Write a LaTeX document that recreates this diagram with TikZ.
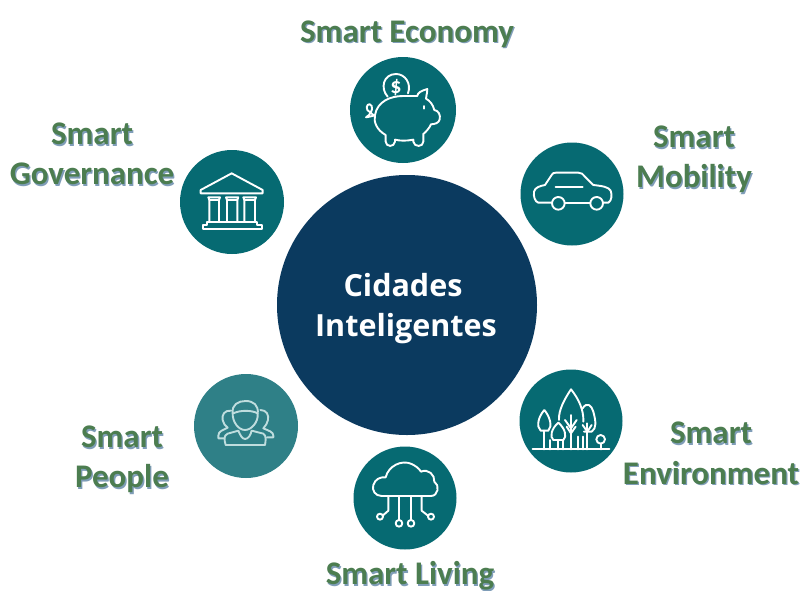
\documentclass[tikz,border=0pt]{standalone}
\usepackage{fontspec}
\setmainfont{Carlito}
\newfontfamily\hubfont{Open Sans}
\definecolor{hubblue}{HTML}{0B3A5F}
\definecolor{tealdisk}{HTML}{066A72}
\definecolor{peopledisk}{HTML}{2F8087}
\definecolor{labelgreen}{HTML}{4C7D50}
\definecolor{labelshade}{HTML}{7F9DB8}
\definecolor{peopleline}{HTML}{BFDDDE}
\tikzset{
  disk/.style={circle,fill=tealdisk,draw=none,minimum size=#1,inner sep=0pt},
  icon/.style={draw=white,line width=1.9pt,line join=round,line cap=round},
  lbl/.style={font=\bfseries\fontsize{33}{33}\selectfont,text=labelgreen,inner sep=0pt,anchor=center},
  lblshade/.style={font=\bfseries\fontsize{33}{33}\selectfont,text=labelshade,inner sep=0pt,anchor=center},
  hublabel/.style={font=\hubfont\bfseries\fontsize{30.5}{30.5}\selectfont,text=white,inner sep=0pt}
}
\newcommand{\smartlabel}[4]{%
  \node[lblshade] at (#2+1.3,#3+1.3) {#4};
  \node[lbl] (#1) at (#2,#3) {#4};}
\begin{document}
\begin{tikzpicture}[x=1pt,y=-1pt]
\useasboundingbox[fill=white] (0,0) rectangle (801,590);
\node[disk=260pt,fill=hubblue] (hub) at (407,305) {};
\node[hublabel] (hubA) at (403,285) {Cidades};
\node[hublabel] (hubB) at (406,329) {Inteligentes};
\node[disk=106pt] (eco) at (403,110) {};
\node[disk=104pt] (gov) at (232,202) {};
\node[disk=103pt] (mob) at (572,194) {};
\node[disk=103pt] (env) at (571,421) {};
\node[disk=103pt] (liv) at (405,498) {};
\node[disk=104pt,fill=peopledisk] (peo) at (246,426) {};
\smartlabel{lEco}{407}{34}{Smart Economy}
\smartlabel{lGovA}{92}{134}{Smart}
\smartlabel{lGovB}{92}{174}{Governance}
\smartlabel{lMobA}{694}{137}{Smart}
\smartlabel{lMobB}{694}{179}{Mobility}
\smartlabel{lEnvA}{711}{433}{Smart}
\smartlabel{lEnvB}{711}{473}{Environment}
\smartlabel{lPeoA}{122}{437}{Smart}
\smartlabel{lPeoB}{122}{479}{People}
\smartlabel{lLiv}{410}{576}{Smart Living}
% piggy
\begin{scope}[shift={(340,0)},x=.3333pt,y=-.3333pt,icon]
\draw (232,288) .. controls (232,278) and (245,272) .. (262,267) .. controls (262,280) and (258,288) .. (258,296)
  .. controls (270,303) and (278,312) .. (283,330) .. controls (296,332) and (302,345) .. (299,358) .. controls (296,370) and (285,372) .. (273,373)
  .. controls (268,385) and (258,395) .. (250,402) -- (250,425) .. controls (250,442) and (222,442) .. (220,425) -- (220,419)
  .. controls (200,423) and (180,423) .. (165,419) -- (165,425) .. controls (163,442) and (138,442) .. (137,425) -- (137,405)
  .. controls (110,390) and (100,365) .. (105,345) .. controls (112,305) and (150,288) .. (190,288) -- (232,288);
\draw (143,290) .. controls (120,265) and (130,222) .. (168,222) .. controls (195,222) and (215,250) .. (204,280);
\node[text=white,font=\bfseries\fontsize{22}{22}\selectfont,inner sep=0pt] (dollar) at (168,262) {\$};
\draw (252,318) -- (252,326);
\draw (105,345) .. controls (95,350) and (85,350) .. (78,352) .. controls (90,345) and (100,330) .. (95,318) .. controls (88,305) and (75,318) .. (82,330) -- (100,345);
\end{scope}
% temple
\begin{scope}[shift={(170,140)},x=.3333pt,y=-.3333pt,icon]
\draw (185,100) -- (278,150) -- (278,160) -- (92,160) -- (92,150) -- cycle;
\foreach \a/\b in {115/150,168/205,220/258}{
  \draw (\a,172) -- (\b,172) -- (\b-3,180) -- (\b-3,245) (\a,172) -- (\a+3,180) -- (\a+3,245);
  \draw (\a+3,180) -- (\b-3,180);
}
\draw (112,245) -- (260,245) -- (260,255) -- (275,255) -- (275,268) -- (98,268) -- (98,255) -- (112,255) -- cycle;
\end{scope}
% car
\begin{scope}[shift={(510,130)},x=.3333pt,y=-.3333pt,icon]
\draw (125,218) -- (85,218) .. controls (75,215) and (70,200) .. (72,185) .. controls (75,172) and (90,168) .. (105,165)
 -- (125,135) .. controls (128,130) and (130,128) .. (138,128) -- (205,128) .. controls (215,128) and (218,132) .. (225,140) -- (250,165)
 .. controls (275,168) and (295,170) .. (302,182) .. controls (307,195) and (305,212) .. (295,218) -- (280,218);
\draw (165,218) -- (240,218);
\draw (137,170) -- (218,170);
\draw (145,220) circle[radius=19];
\draw (260,220) circle[radius=19];
\end{scope}
% trees
\begin{scope}[shift={(510,360)},x=.3333pt,y=-.3333pt,icon]
\draw (68,268) -- (298,268);
\draw (183,88) .. controls (165,115) and (145,150) .. (147,180);
\draw (183,88) .. controls (205,115) and (222,150) .. (220,185);
\draw (103,150) .. controls (85,170) and (78,200) .. (92,212) -- (115,212) .. controls (128,200) and (120,170) .. (103,150);
\draw (145,188) .. controls (125,205) and (118,230) .. (130,240) -- (160,240) .. controls (172,230) and (165,205) .. (145,188);
\draw (218,145) .. controls (230,125) and (245,135) .. (250,155) .. controls (258,185) and (260,205) .. (245,215) -- (222,215);
\draw (103,212) -- (103,268) (145,240) -- (145,268) (183,165) -- (183,268) (232,190) -- (232,268);
\draw (120,240) -- (120,268) (160,240) -- (160,268) (205,230) -- (205,268) (218,230) -- (218,268);
\draw (165,180) -- (183,205) -- (200,180) (170,200) -- (183,220) -- (197,200);
\draw (218,195) -- (232,215) -- (245,195);
\draw (272,238) circle[radius=13];
\draw (272,251) -- (272,268);
\end{scope}
% cloud
\begin{scope}[shift={(345,440)},x=.3333pt,y=-.3333pt,icon]
\draw (110,168) .. controls (90,168) and (80,150) .. (85,135) .. controls (90,118) and (105,110) .. (122,112)
 .. controls (130,78) and (170,58) .. (200,72) .. controls (212,78) and (222,85) .. (228,95) .. controls (250,85) and (270,105) .. (268,125)
 .. controls (285,135) and (280,168) .. (258,168) -- cycle;
\draw (130,170) -- (130,212) -- (114,226);
\draw (105,230) circle[radius=9];
\draw (162,170) -- (162,240);
\draw (162,250) circle[radius=10];
\draw (198,170) -- (198,240);
\draw (198,250) circle[radius=10];
\draw (230,170) -- (230,212) -- (249,227);
\draw (258,230) circle[radius=9];
\end{scope}
% people
\begin{scope}[shift={(185,365)},x=.3333pt,y=-.3333pt,icon,draw=peopleline]
\draw (143,145) .. controls (140,118) and (160,108) .. (182,108) .. controls (205,108) and (222,120) .. (218,148)
 .. controls (220,170) and (200,195) .. (180,195) .. controls (160,195) and (142,170) .. (143,145);
\draw (145,145) .. controls (165,135) and (200,135) .. (218,145);
\draw (122,240) .. controls (118,225) and (115,212) .. (128,206) -- (160,197) .. controls (165,210) and (172,222) .. (180,222) .. controls (190,222) and (197,210) .. (200,197) -- (235,206) .. controls (245,212) and (242,228) .. (240,240) -- cycle;
\draw (138,137) .. controls (118,135) and (110,150) .. (113,165) .. controls (115,175) and (120,182) .. (128,188) .. controls (115,195) and (100,198) .. (100,212) -- (100,220) -- (116,220);
\draw (226,135) .. controls (245,135) and (252,150) .. (249,165) .. controls (247,175) and (242,182) .. (235,190) .. controls (250,197) and (265,200) .. (265,212) -- (265,217) -- (246,217);
\end{scope}
\end{tikzpicture}
\end{document}
